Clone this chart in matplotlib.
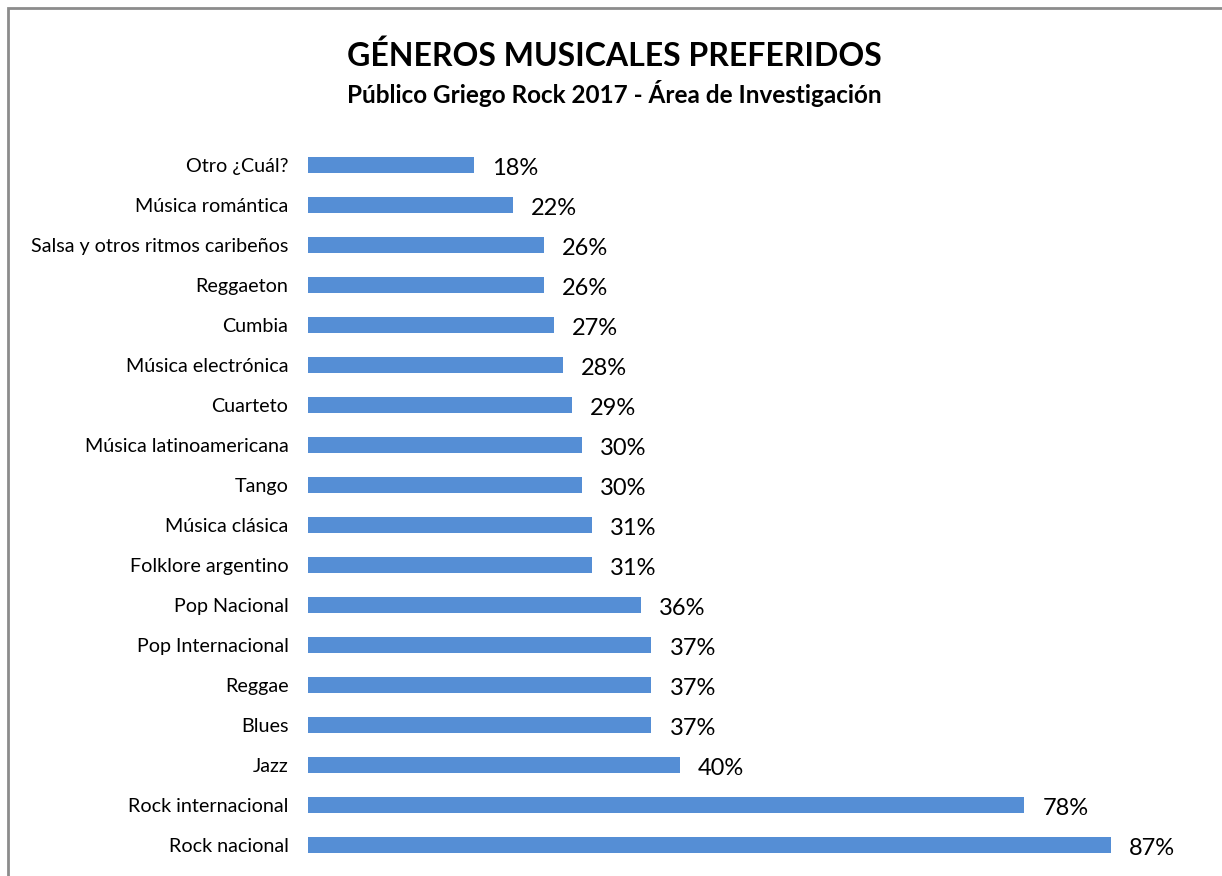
import matplotlib.pyplot as plt
from matplotlib.patches import Rectangle

# Datos (de arriba hacia abajo)
generos = [
    "Otro ¿Cuál?", "Música romántica", "Salsa y otros ritmos caribeños",
    "Reggaeton", "Cumbia", "Música electrónica", "Cuarteto",
    "Música latinoamericana", "Tango", "Música clásica", "Folklore argentino",
    "Pop Nacional", "Pop Internacional", "Reggae", "Blues", "Jazz",
    "Rock internacional", "Rock nacional",
]
porcentajes = [18.0, 22.2, 25.6, 25.6, 26.6, 27.6, 28.6, 29.7, 29.7, 30.8, 30.8,
               36.1, 37.2, 37.2, 37.2, 40.3, 77.6, 87.0]

plt.rcParams['font.family'] = ['Lato', 'DejaVu Sans']

fig = plt.figure(figsize=(12.22, 8.76), dpi=100)
ax = fig.add_axes([0.252, 0.0126, 0.68, 0.822])

pos = list(range(len(generos)))[::-1]
ax.barh(pos, porcentajes, height=0.4, color='#558ED5')
ax.set_xlim(0, 90)
ax.set_ylim(-0.5, len(generos) - 0.5)

for p, v in zip(pos, porcentajes):
    ax.annotate(f"{v:.0f}%", (v, p), xytext=(13, -2.5), textcoords='offset points',
                ha='left', va='center', fontsize=17, annotation_clip=False)

ax.set_yticks(pos)
ax.set_yticklabels(generos, fontsize=14.2)
ax.tick_params(axis='y', length=0, pad=14)
ax.set_xticks([])
for s in ax.spines.values():
    s.set_visible(False)

fig.text(0.503, 0.936, "GÉNEROS MUSICALES PREFERIDOS", ha='center', va='center',
         fontsize=23, fontweight='bold')
fig.text(0.503, 0.893, "Público Griego Rock 2017 - Área de Investigación",
         ha='center', va='center', fontsize=17.5, fontweight='bold')

fig.patches.append(Rectangle((8 / 1222, -0.1), 1.2, 1 - 8 / 876 + 0.1,
                             transform=fig.transFigure, fill=False,
                             edgecolor='#8c8c8c', linewidth=2))

fig.savefig("out.png", dpi=100)
